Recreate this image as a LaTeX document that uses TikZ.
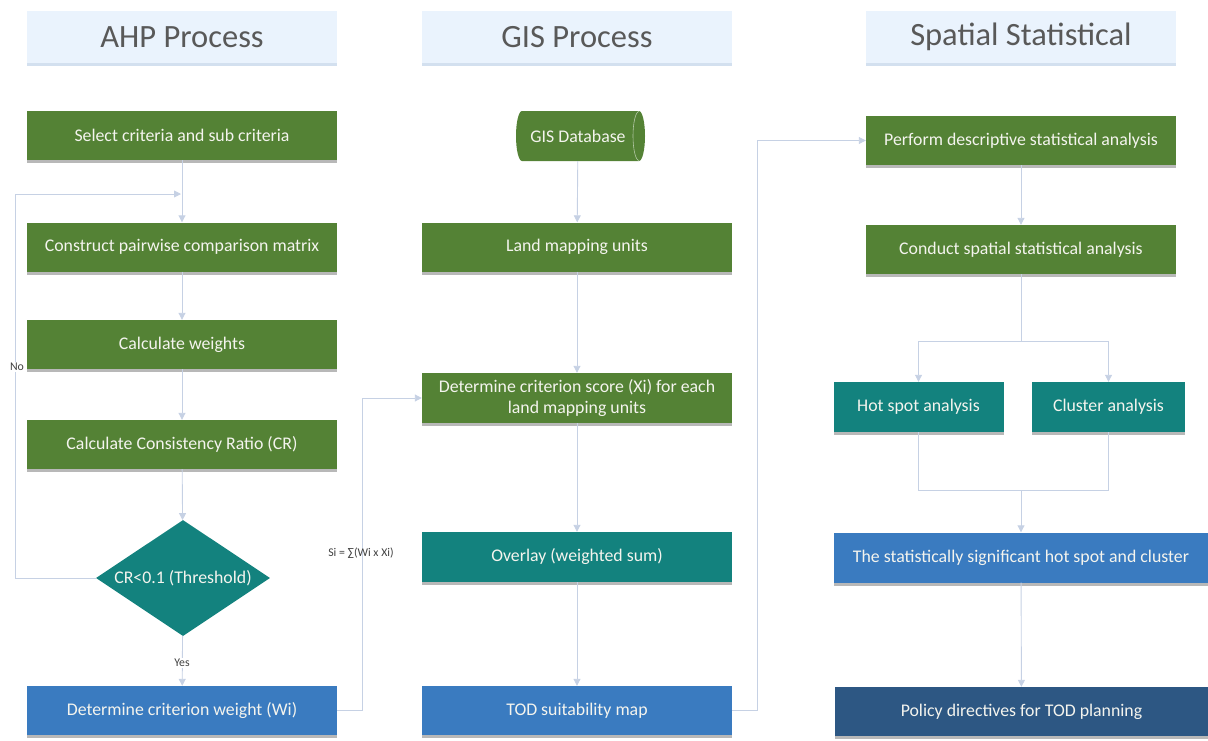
\documentclass[tikz,border=0pt]{standalone}
\usepackage{fontspec}
\setmainfont{Carlito}
\usetikzlibrary{arrows.meta,shapes.geometric,shadows}

\definecolor{boxgreen}{HTML}{548235}
\definecolor{boxteal}{HTML}{13827E}
\definecolor{boxblue}{HTML}{3A7BC0}
\definecolor{boxnavy}{HTML}{2D5783}
\definecolor{headfill}{HTML}{EAF3FD}
\definecolor{headshade}{HTML}{D3E0EF}
\definecolor{headtext}{HTML}{595959}
\definecolor{linkcol}{HTML}{C6D1E4}
\definecolor{boxtext}{HTML}{F4F4EE}
\definecolor{labeltext}{HTML}{404040}

\tikzset{
  header/.style={rectangle, fill=headfill, minimum width=310pt, minimum height=52pt,
    inner sep=0pt, text=headtext, font=\fontsize{32.5}{36}\selectfont,
    drop shadow={shadow xshift=0pt, shadow yshift=-3pt, fill=headshade, opacity=1}},
  stepbox/.style={rectangle, fill=boxgreen, minimum width=310pt, minimum height=49pt,
    inner sep=0pt, text=boxtext, align=center, font=\fontsize{17.8}{21}\selectfont,
    drop shadow={shadow xshift=0pt, shadow yshift=-3pt, fill=black!28, opacity=1}},
  tealbox/.style={stepbox, fill=boxteal},
  bluebox/.style={stepbox, fill=boxblue},
  navybox/.style={stepbox, fill=boxnavy},
  decision/.style={diamond, fill=boxteal, minimum width=174pt, minimum height=116pt,
    inner sep=0pt, aspect=1.5, text=boxtext, font=\fontsize{17.8}{21}\selectfont},
  link/.style={draw=linkcol, line width=0.9pt},
  conn/.style={link, -{Triangle[length=7pt,width=7pt]}},
  tag/.style={text=labeltext, font=\fontsize{11.8}{14}\selectfont, inner sep=1pt}
}

\begin{document}
\begin{tikzpicture}[x=1pt,y=-1pt]
\useasboundingbox (0,0) rectangle (1208,740);

% column headers
\node[header] (h1) at (182,37) {AHP Process};
\node[header] (h2) at (577,37) {GIS Process};
\node[header] (h3) at (1021,37) {Spatial Statistical};

% AHP column
\node[stepbox] (select) at (182,135.5) {Select criteria and sub criteria};
\node[stepbox] (pairwise) at (182,247) {Construct pairwise comparison matrix};
\node[stepbox] (weights) at (182,344.5) {Calculate weights};
\node[stepbox] (ratio) at (182,444.5) {Calculate Consistency Ratio (CR)};
\node[decision] (check) at (183,578) {CR<0.1 (Threshold)};
\node[bluebox] (critw) at (182,710.5) {Determine criterion weight (Wi)};

% GIS column: database drawn as a horizontal drum
\fill[boxgreen] (522,111) -- (639,111)
   arc[start angle=90, end angle=-90, x radius=6pt, y radius=25pt]
   -- (522,161)
   arc[start angle=270, end angle=90, x radius=6pt, y radius=25pt] -- cycle;
\draw[white!55!boxgreen, line width=0.6pt] (639,111.5)
   arc[start angle=90, end angle=270, x radius=6pt, y radius=24.5pt];
\node[rectangle, minimum width=129pt, minimum height=50pt, inner sep=0pt,
      text=boxtext, font=\fontsize{17.8}{21}\selectfont] (db) at (578,136) {GIS Database};
\node[stepbox] (units) at (577,247) {Land mapping units};
\node[stepbox, minimum height=50pt] (score) at (577,398) {Determine criterion score (Xi) for each\\land mapping units};
\node[tealbox, minimum height=50pt] (overlay) at (577,557) {Overlay (weighted sum)};
\node[bluebox] (todmap) at (577,710.5) {TOD suitability map};

% spatial statistics column
\node[stepbox] (descr) at (1021,140.5) {Perform descriptive statistical analysis};
\node[stepbox] (spatial) at (1021,249.5) {Conduct spatial statistical analysis};
\node[tealbox, minimum width=170pt, minimum height=50pt] (hot) at (918.5,407) {Hot spot analysis};
\node[tealbox, minimum width=153pt, minimum height=50pt] (cluster) at (1108.5,407) {Cluster analysis};
\node[bluebox, minimum width=374pt, minimum height=50pt] (signif) at (1021,557.5) {The statistically significant hot spot and cluster};
\node[navybox, minimum width=373pt] (policy) at (1021.5,711.5) {Policy directives for TOD planning};

% helper points
\coordinate (loopin) at (181,194);
\coordinate (split) at (1021,341);
\coordinate (join) at (1021,490);

% AHP connectors
\draw[conn] (select) -- (pairwise);
\draw[conn] (pairwise) -- (weights);
\draw[conn] (weights) -- (ratio);
\draw[conn] (ratio) -- (check);
\draw[conn] (check.west) -- ++(-80,0) |- (loopin);
\node[tag, fill=white] (nolabel) at (17,367) {No};
\draw[conn] (check) -- (critw);
\node[tag, fill=white] (yeslabel) at (182,663) {Yes};
\draw[conn] (critw.east) -- ++(25,0) |- (score.west);
\node[tag] (silabel) at (361,553) {Si = ∑(Wi x Xi)};

% GIS connectors
\draw[conn] (db) -- (units);
\draw[conn] (units) -- (score);
\draw[conn] (score) -- (overlay);
\draw[conn] (overlay) -- (todmap);
\draw[conn] (todmap.east) -- ++(25,0) |- (descr.west);

% spatial statistics connectors
\draw[conn] (descr) -- (spatial);
\draw[link] (spatial) -- (split);
\draw[conn] (split) -| (hot.north);
\draw[conn] (split) -| (cluster.north);
\draw[link] (hot.south) |- (join) -| (cluster.south);
\draw[conn] (join) -- (signif.north);
\draw[conn] (signif) -- (policy);
\end{tikzpicture}
\end{document}
